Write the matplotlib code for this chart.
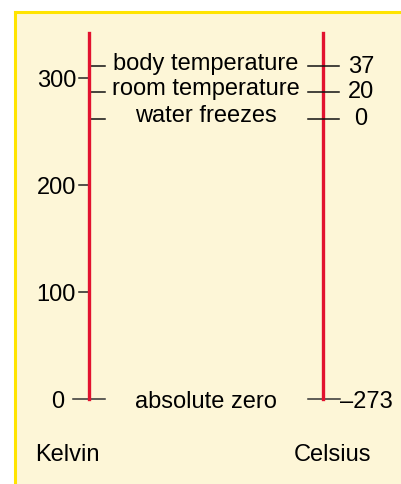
import matplotlib.pyplot as plt
from matplotlib.patches import Rectangle

plt.rcParams['font.family'] = ['Liberation Sans', 'DejaVu Sans']

# Kelvin scale ticks
kelvin_ticks = [0, 100, 200, 300]
# markers (positions as drawn, in kelvin) with their labels
marker_pos = [311, 287, 262, 0]
marker_names = ['body temperature', 'room temperature', 'water freezes', 'absolute zero']
celsius_labels = ['37', '20', '0', '\u2013273']
scale_top = 342

fig = plt.figure(figsize=(4.02, 4.85), dpi=100)
fig.patch.set_facecolor('white')

# background panel with yellow top/left edges
fig.patches.append(Rectangle((15 / 402, 0), 1, 1 - 13 / 485, transform=fig.transFigure,
                             facecolor='#fdf6d7', edgecolor='none', zorder=-2))
fig.lines.append(plt.Line2D([15 / 402, 1], [1 - 13 / 485] * 2, transform=fig.transFigure,
                            color='#ffe400', lw=2.2, zorder=-1))
fig.lines.append(plt.Line2D([15 / 402] * 2, [0, 1 - 13 / 485], transform=fig.transFigure,
                            color='#ffe400', lw=2.2, zorder=-1))

ax = fig.add_axes([0, 0, 1, 1])
ax.set_xlim(0, 402)
ax.set_ylim(-79.4, 373.8)
ax.axis('off')
ax.patch.set_alpha(0)

xk, xc = 89, 323
red = '#e2122f'
ax.plot([xk, xk], [0, scale_top], color=red, lw=2.4, zorder=3)
ax.plot([xc, xc], [0, scale_top], color=red, lw=2.4, zorder=3)

fs = 17


def label(x, y, s, ha, drop):
    # baseline placed `drop` pixels below the tick
    ax.annotate(s, (x, y), xytext=(0, -drop), textcoords='offset pixels',
                ha=ha, va='baseline', fontsize=fs)


for k in kelvin_ticks:
    if k == 0:
        continue
    ax.plot([79, xk], [k, k], color='#222222', lw=1.1)
    label(76, k, str(k), 'right', 8)
label(64, 0, '0', 'right', 8)

for pos, name, c in zip(marker_pos, marker_names, celsius_labels):
    if pos == 0:
        ax.plot([73, 105], [pos, pos], color='#333333', lw=1.1, zorder=2)
        ax.plot([308, 340], [pos, pos], color='#333333', lw=1.1, zorder=2)
        label(340, pos, c, 'left', 8)
        label(206, pos, name, 'center', 8)
    else:
        ax.plot([90, 105], [pos, pos], color='#111111', lw=1.1)
        ax.plot([308, 339], [pos, pos], color='#111111', lw=1.1, zorder=4)
        label(361, pos, c, 'center', 5.5)
        label(206, pos, name, 'center', 2.5)

ax.annotate('Kelvin', (35, 0), xytext=(0, -61), textcoords='offset pixels',
            ha='left', va='baseline', fontsize=fs)
ax.annotate('Celsius', (371, 0), xytext=(0, -61), textcoords='offset pixels',
            ha='right', va='baseline', fontsize=fs)

fig.savefig('out.png', dpi=100)
